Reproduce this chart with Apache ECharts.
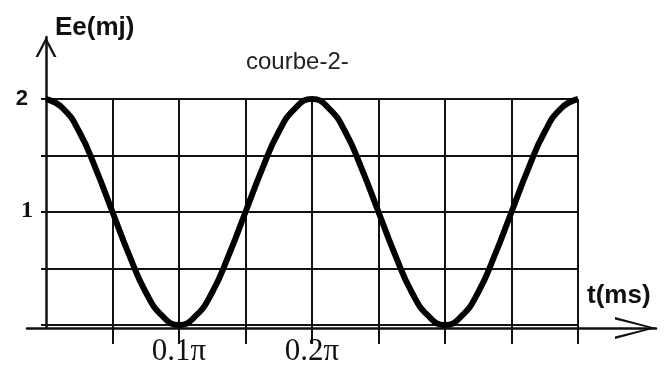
<!DOCTYPE html>
<html>
<head>
<meta charset="utf-8">
<script src="https://cdn.jsdelivr.net/npm/echarts@6/dist/echarts.min.js"></script>
<style>
  html, body { margin: 0; padding: 0; background: #fff; }
</style>
</head>
<body>
<div id="chart" style="width: 672px; height: 367px;"></div>
<script>
// t en unités de π (ms), lu toutes les demi-divisions
const tValues = [0, 0.0125, 0.025, 0.0375, 0.05, 0.0625, 0.075, 0.0875, 0.1,
  0.1125, 0.125, 0.1375, 0.15, 0.1625, 0.175, 0.1875, 0.2,
  0.2125, 0.225, 0.2375, 0.25, 0.2625, 0.275, 0.2875, 0.3,
  0.3125, 0.325, 0.3375, 0.35, 0.3625, 0.375, 0.3875, 0.4];
// Ee (mJ)
const eeValues = [2, 1.92, 1.71, 1.38, 1, 0.62, 0.29, 0.08, 0,
  0.08, 0.29, 0.62, 1, 1.38, 1.71, 1.92, 2,
  1.92, 1.71, 1.38, 1, 0.62, 0.29, 0.08, 0,
  0.08, 0.29, 0.62, 1, 1.38, 1.71, 1.92, 2];
const xTicks = [0.05, 0.1, 0.15, 0.2, 0.25, 0.3, 0.35, 0.4];
const xLabels = {0.1: '0.1π', 0.2: '0.2π'};
const yLabels = {1: '{b|1}', 2: '{a|2}'};

const chart = echarts.init(document.getElementById('chart'));

const ink = '#111';
const arrowY = 'path://M0,20 L10.5,0 L21,20 L18.4,20 L10.5,4.8 L2.6,20 Z';
const arrowX = 'path://M0,41 L11,0 L22,41 L19.4,41 L11,6.5 L2.6,41 Z';

const option = {
  animation: false,
  title: [
    {text: 'Ee(mj)', left: 55, top: 15, padding: 0,
      textStyle: {fontFamily: 'Liberation Sans', fontWeight: 'bold', fontSize: 26, color: ink}},
    {text: 'courbe-2-', left: 246, top: 50, padding: 0,
      textStyle: {fontFamily: 'Liberation Sans', fontWeight: 'normal', fontSize: 24, color: '#222'}},
    {text: 't(ms)', left: 587, top: 283, padding: 0,
      textStyle: {fontFamily: 'Liberation Sans', fontWeight: 'bold', fontSize: 26, color: ink}}
  ],
  grid: [
    {left: 46, right: 94, top: 99, bottom: 39},   // quadrillage + courbe
    {left: 27, right: 16, top: 37, bottom: 39}    // axes avec flèches
  ],
  xAxis: [
    {
      type: 'value', gridIndex: 0, min: 0, max: 0.4, interval: 0.05,
      axisLine: {show: false},
      axisTick: {show: true, length: 19, customValues: xTicks, lineStyle: {color: ink, width: 2}},
      axisLabel: {
        customValues: [0.1, 0.2], margin: 11,
        fontFamily: 'Liberation Serif', fontSize: 31, color: ink,
        formatter: v => xLabels[Math.round(v * 100) / 100] || ''
      },
      splitLine: {show: true, lineStyle: {color: ink, width: 2}}
    },
    {
      type: 'value', gridIndex: 1, min: -19, max: 610,
      axisLine: {show: true, onZero: true, symbol: ['none', arrowX], symbolSize: [22, 41],
        symbolOffset: [0, -20.5], lineStyle: {color: ink, width: 2.5}},
      axisTick: {show: false}, axisLabel: {show: false}, splitLine: {show: false}
    }
  ],
  yAxis: [
    {
      type: 'value', gridIndex: 0, min: 0, max: 2, interval: 0.5,
      axisLine: {show: false},
      axisTick: {show: true, length: 5, lineStyle: {color: ink, width: 2}},
      axisLabel: {
        margin: 13,
        formatter: v => yLabels[v] || '',
        rich: {
          a: {fontFamily: 'Liberation Sans', fontWeight: 'bold', fontSize: 22, color: ink, padding: [0, 5, 0, 0]},
          b: {fontFamily: 'Liberation Serif', fontWeight: 'bold', fontSize: 24, color: ink, padding: [0, 0, 3, 0]}
        }
      },
      splitLine: {show: true, lineStyle: {color: ink, width: 2}}
    },
    {
      type: 'value', gridIndex: 1, min: 0, max: 1,
      axisLine: {show: true, onZero: true, symbol: ['none', arrowY], symbolSize: [21, 20],
        symbolOffset: [0, -10], lineStyle: {color: ink, width: 2.5}},
      axisTick: {show: false}, axisLabel: {show: false}, splitLine: {show: false}
    }
  ],
  series: [{
    type: 'line',
    xAxisIndex: 0, yAxisIndex: 0,
    data: tValues.map((t, i) => [t, eeValues[i]]),
    smooth: true,
    showSymbol: false,
    lineStyle: {color: '#000', width: 6},
    z: 5
  }]
};

chart.setOption(option);
</script>
</body>
</html>
